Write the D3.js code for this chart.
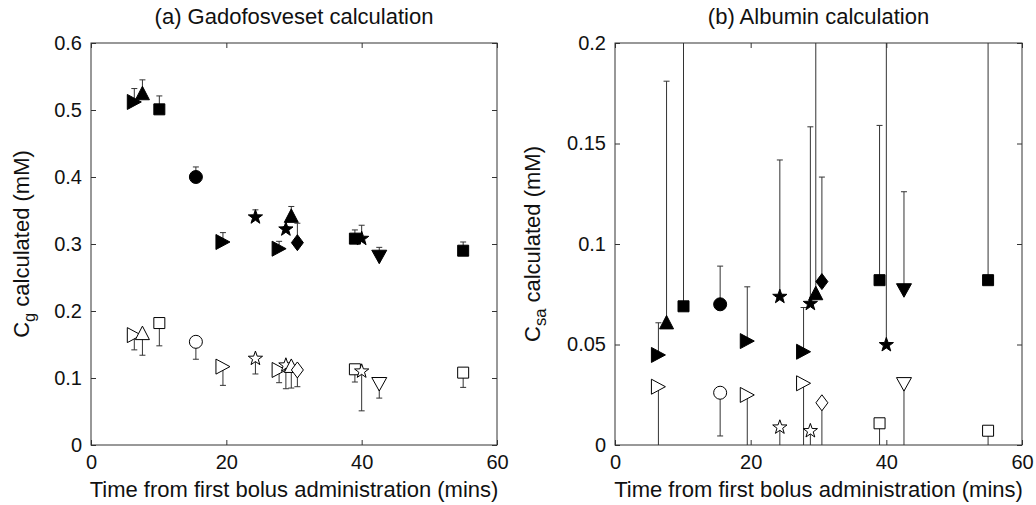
<!DOCTYPE html>
<html>
<head>
<meta charset="utf-8">
<script src="https://cdn.jsdelivr.net/npm/d3@7"></script>
<style>
  html, body { margin: 0; padding: 0; background: #fff; }
  svg text { font-family: "Liberation Sans", Arial, Helvetica, sans-serif; fill: #111; }
</style>
</head>
<body>
<svg id="chart" width="1036" height="505"></svg>
<script>
// ---- Data ----
const times  = [6.4, 7.6, 10.1, 15.5, 19.5, 24.3, 27.8, 28.8, 29.6, 30.5, 39.0, 40.0, 42.6, 55.0];
const shapes = ["right", "up", "square", "circle", "right", "star", "right", "star", "up", "diamond", "square", "star", "down", "square"];

// (a) Gadofosveset: filled markers with upper error, open markers with lower error
const gadoFilled    = [0.512, 0.525, 0.501, 0.400, 0.303, 0.340, 0.293, 0.322, 0.342, 0.302, 0.308, 0.308, 0.281, 0.290];
const gadoFilledErr = [0.020, 0.020, 0.020, 0.015, 0.014, 0.011, 0.011, 0.004, 0.014, 0.029, 0.013, 0.020, 0.014, 0.013];
const gadoOpen      = [0.164, 0.167, 0.182, 0.154, 0.117, 0.129, 0.112, 0.119, 0.118, 0.112, 0.113, 0.110, 0.091, 0.108];
const gadoOpenErr   = [0.022, 0.033, 0.034, 0.026, 0.028, 0.023, 0.019, 0.035, 0.033, 0.025, 0.019, 0.059, 0.021, 0.022];

// (b) Albumin
const albFilled    = [0.0448, 0.061, 0.069, 0.070, 0.0517, 0.0738, 0.0464, 0.0703, 0.0755, 0.0813, 0.082, 0.0498, 0.077, 0.082];
const albFilledErr = [0.016, 0.120, 0.180, 0.019, 0.027, 0.068, 0.022, 0.088, 0.150, 0.052, 0.077, 0.200, 0.049, 0.200];
const albOpen      = [0.029, null, null, 0.026, 0.0249, 0.0088, 0.0307, 0.007, null, 0.021, 0.0108, null, 0.0303, 0.0071];
const albOpenErr   = [0.050, null, null, 0.0215, 0.050, 0.050, 0.050, 0.050, null, 0.050, 0.050, null, 0.050, 0.050];

const xTicks = [0, 20, 40, 60];
const xTickLabels = ["0", "20", "40", "60"];
const gadoYTicks = [0, 0.1, 0.2, 0.3, 0.4, 0.5, 0.6];
const gadoYTickLabels = ["0", "0.1", "0.2", "0.3", "0.4", "0.5", "0.6"];
const albYTicks = [0, 0.05, 0.1, 0.15, 0.2];
const albYTickLabels = ["0", "0.05", "0.1", "0.15", "0.2"];

const titles = ["(a) Gadofosveset calculation", "(b) Albumin calculation"];
const xLabel = "Time from first bolus administration (mins)";

// ---- Drawing ----
const svg = d3.select("#chart");
const FS = 20;      // tick labels
const LFS = 22;     // titles and axis labels
const frameColor = "#333";
const barColor = "#333";

function markerPath(shape) {
  switch (shape) {
    case "right": return "M-7,-7.5L7,0L-7,7.5Z";
    case "up": return "M0,-7L7,6.5L-7,6.5Z";
    case "down": return "M0,7L7.5,-6.5L-7.5,-6.5Z";
    case "square": return "M-5.5,-5.5H5.5V5.5H-5.5Z";
    case "diamond": return "M0,-8L6,0L0,8L-6,0Z";
    case "circle": return d3.arc()({innerRadius: 0, outerRadius: 6.5, startAngle: 0, endAngle: 2 * Math.PI});
    case "star": {
      const pts = [];
      for (let i = 0; i < 10; i++) {
        const r = i % 2 === 0 ? 7.5 : 3.0;
        const a = -Math.PI / 2 + i * Math.PI / 5;
        pts.push([r * Math.cos(a), r * Math.sin(a)]);
      }
      return "M" + pts.map(p => p[0].toFixed(2) + "," + p[1].toFixed(2)).join("L") + "Z";
    }
  }
}

function panel(opts) {
  const {left, right, top, bottom, yMax, yTicks, yTickLabels, filled, filledErr, open, openErr, title, ylabelMain, ylabelSub, ylabelX, clipId} = opts;
  const x = d3.scaleLinear().domain([0, 60]).range([left, right]);
  const y = d3.scaleLinear().domain([0, yMax]).range([bottom, top]);
  const g = svg.append("g");

  svg.append("defs").append("clipPath").attr("id", clipId)
    .append("rect").attr("x", left).attr("y", top).attr("width", right - left).attr("height", bottom - top);

  // axes with inward ticks on all four sides
  const fmtX = (d, i) => xTickLabels[i];
  const fmtY = (d, i) => yTickLabels[i];
  const axB = g.append("g").attr("transform", `translate(0,${bottom})`)
    .call(d3.axisBottom(x).tickValues(xTicks).tickFormat(fmtX).tickSizeInner(-5).tickSizeOuter(0).tickPadding(10));
  const axT = g.append("g").attr("transform", `translate(0,${top})`)
    .call(d3.axisTop(x).tickValues(xTicks).tickFormat("").tickSizeInner(-5).tickSizeOuter(0));
  const axL = g.append("g").attr("transform", `translate(${left},0)`)
    .call(d3.axisLeft(y).tickValues(yTicks).tickFormat(fmtY).tickSizeInner(-5).tickSizeOuter(0).tickPadding(9));
  const axR = g.append("g").attr("transform", `translate(${right},0)`)
    .call(d3.axisRight(y).tickValues(yTicks).tickFormat("").tickSizeInner(-5).tickSizeOuter(0));
  [axB, axT, axL, axR].forEach(a => {
    a.select(".domain").remove();
    a.selectAll(".tick line").attr("stroke", frameColor);
    a.selectAll("text").attr("font-size", FS).attr("font-family", null).style("fill", "#111");
  });

  g.append("rect").attr("x", left).attr("y", top).attr("width", right - left).attr("height", bottom - top)
    .attr("fill", "none").attr("stroke", frameColor).attr("stroke-width", 1);

  const data = g.append("g").attr("clip-path", `url(#${clipId})`);

  function drawSeries(vals, errs, dir, isFilled) {
    times.forEach((t, i) => {
      const v = vals[i];
      if (v === null || v === undefined) return;
      const e = errs[i];
      const cx = x(t), cy = y(v);
      const ey = y(v + dir * e);
      data.append("line").attr("x1", cx).attr("x2", cx).attr("y1", cy).attr("y2", ey)
        .attr("stroke", barColor).attr("stroke-width", 1);
      data.append("line").attr("x1", cx - 3).attr("x2", cx + 3).attr("y1", ey).attr("y2", ey)
        .attr("stroke", barColor).attr("stroke-width", 1);
      data.append("path").attr("d", markerPath(shapes[i]))
        .attr("transform", `translate(${cx},${cy})`)
        .attr("fill", isFilled ? "#000" : "#fff")
        .attr("stroke", "#000").attr("stroke-width", 1);
    });
  }
  drawSeries(filled, filledErr, 1, true);
  drawSeries(open, openErr, -1, false);

  // title
  svg.append("text").attr("x", (left + right) / 2).attr("y", top - 19)
    .attr("text-anchor", "middle").attr("font-size", LFS).text(title);
  // x label
  svg.append("text").attr("x", (left + right) / 2).attr("y", bottom + 52)
    .attr("text-anchor", "middle").attr("font-size", LFS).text(xLabel);
  // y label
  const yl = svg.append("text")
    .attr("transform", `translate(${ylabelX},${(top + bottom) / 2}) rotate(-90)`)
    .attr("text-anchor", "middle").attr("font-size", LFS);
  yl.append("tspan").text(ylabelMain);
  yl.append("tspan").attr("font-size", LFS * 0.75).attr("dy", 6).text(ylabelSub);
  yl.append("tspan").attr("dy", -6).text(" calculated (mM)");
}

panel({
  left: 91, right: 497, top: 43, bottom: 445, yMax: 0.6,
  yTicks: gadoYTicks, yTickLabels: gadoYTickLabels,
  filled: gadoFilled, filledErr: gadoFilledErr, open: gadoOpen, openErr: gadoOpenErr,
  title: titles[0], ylabelMain: "C", ylabelSub: "g", ylabelX: 29, clipId: "clipA"
});
panel({
  left: 615, right: 1022, top: 43, bottom: 445, yMax: 0.2,
  yTicks: albYTicks, yTickLabels: albYTickLabels,
  filled: albFilled, filledErr: albFilledErr, open: albOpen, openErr: albOpenErr,
  title: titles[1], ylabelMain: "C", ylabelSub: "sa", ylabelX: 540, clipId: "clipB"
});
</script>
</body>
</html>
